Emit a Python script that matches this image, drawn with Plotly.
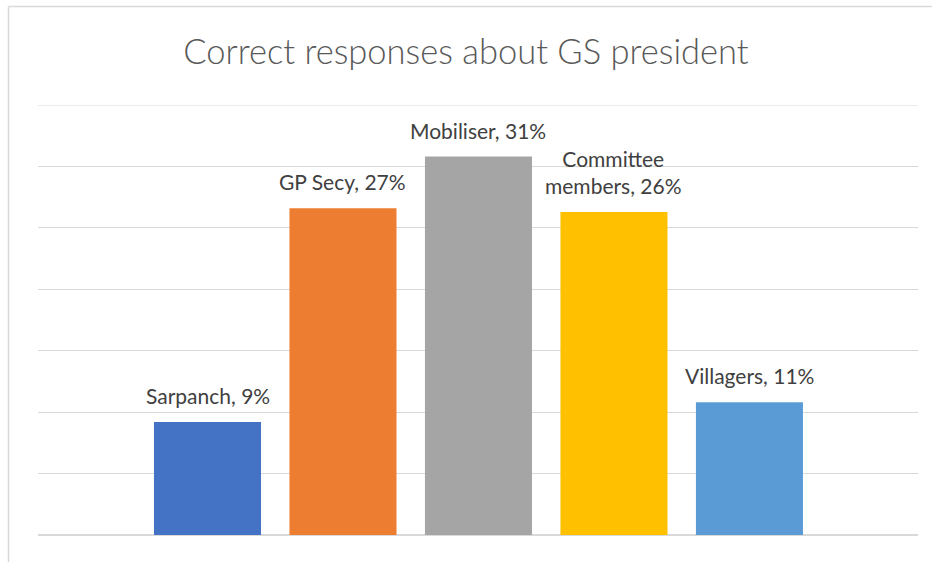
import plotly.graph_objects as go

categories = ["Sarpanch", "GP Secy", "Mobiliser", "Committee members", "Villagers"]
label_names = ["Sarpanch", "GP Secy", "Mobiliser", "Committee<br>members", "Villagers"]
values = [9.2, 26.6, 30.8, 26.3, 10.8]
colors = ["#4472C4", "#ED7D31", "#A5A5A5", "#FFC000", "#5B9BD5"]
title_text = "Correct responses about GS president"

xpos = list(range(len(categories)))

FONT = "Lato, 'Open Sans', sans-serif"

fig = go.Figure()
fig.add_trace(go.Bar(
    x=xpos, y=values, width=0.79,
    marker=dict(color=colors, line=dict(width=0)),
    hoverinfo="skip", showlegend=False,
))

annotations = []
for i, (n, v) in enumerate(zip(label_names, values)):
    annotations.append(dict(
        x=i, y=v, xref="x", yref="y",
        text=f"{n}, {round(v)}%",
        showarrow=False, yanchor="bottom", xanchor="center",
        yshift=12, align="center",
        font=dict(family=FONT, size=21, color="#404040"),
    ))

top = 35
fig.update_layout(
    width=932, height=562,
    margin=dict(l=38, r=14, t=105, b=27, pad=0),
    paper_bgcolor="white", plot_bgcolor="white",
    title=dict(text=title_text, x=0.5, xanchor="center", y=0.908, yanchor="middle",
               font=dict(family=FONT, size=34.5, color="#595959", weight=300)),
    xaxis=dict(range=[-1.251, 5.244], showticklabels=False, showgrid=False,
               zeroline=False, showline=False, ticks=""),
    yaxis=dict(range=[0, top], dtick=5, showticklabels=False,
               showgrid=True, gridcolor="#D9D9D9", gridwidth=1.2, zeroline=True,
               zerolinecolor="#D9D9D9", zerolinewidth=1.5, showline=False, ticks=""),
    annotations=annotations,
    shapes=[
        dict(type="line", xref="paper", yref="y", x0=0, x1=1, y0=top, y1=top,
             line=dict(color="#D9D9D9", width=1.2), layer="below"),
        dict(type="line", xref="paper", yref="paper", x0=(8.5 - 38) / 880, x1=(8.5 - 38) / 880,
             y0=-0.1, y1=(535 - 6.5) / 430, line=dict(color="#D9D9D9", width=1.5)),
        dict(type="line", xref="paper", yref="paper", x0=(8.5 - 38) / 880, x1=1.1,
             y0=(535 - 6.5) / 430, y1=(535 - 6.5) / 430, line=dict(color="#D9D9D9", width=1.5)),
    ],
)

fig.write_html("out.html", config={"displayModeBar": False},
               post_script="document.body.style.margin='0';")
